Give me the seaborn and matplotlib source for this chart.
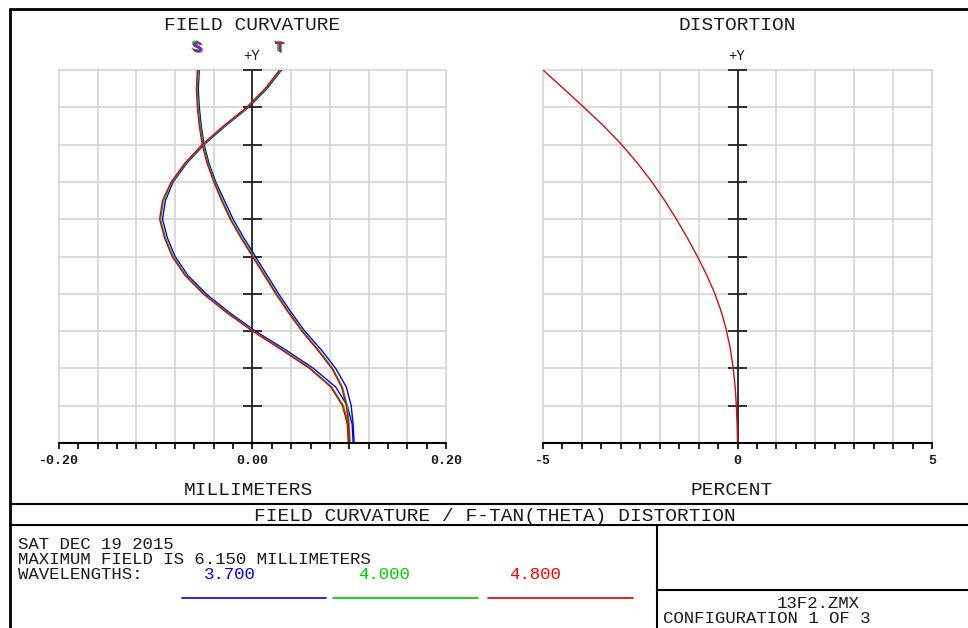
import matplotlib
matplotlib.use("Agg")
import matplotlib.pyplot as plt
import matplotlib.patheffects as pe
import numpy as np
import pandas as pd
import seaborn as sns
from matplotlib.lines import Line2D

# ---------------- data ----------------
field = [0.00, 0.05, 0.10, 0.15, 0.20, 0.25, 0.30, 0.35, 0.40, 0.45, 0.50,
         0.55, 0.60, 0.65, 0.70, 0.75, 0.80, 0.85, 0.90, 0.95, 1.00]

wavelengths = ["3.700", "4.000", "4.800"]
wave_colors = ["#0000ff", "#00c000", "#e00000"]

# tangential field curvature (mm)
tan_3700 = [0.104, 0.103, 0.098, 0.086, 0.063, 0.034, 0.003, -0.024, -0.048, -0.067, -0.080,
            -0.088, -0.093, -0.090, -0.082, -0.068, -0.050, -0.028, -0.004, 0.015, 0.030]
tan_4000 = [0.100, 0.099, 0.094, 0.082, 0.060, 0.031, 0.001, -0.026, -0.050, -0.069, -0.082,
            -0.090, -0.095, -0.092, -0.083, -0.069, -0.051, -0.029, -0.005, 0.014, 0.029]
tan_4800 = [0.099, 0.098, 0.093, 0.081, 0.059, 0.030, 0.000, -0.027, -0.051, -0.070, -0.083,
            -0.091, -0.096, -0.093, -0.084, -0.070, -0.052, -0.030, -0.006, 0.013, 0.028]
# sagittal field curvature (mm)
sag_3700 = [0.105, 0.104, 0.102, 0.097, 0.086, 0.071, 0.054, 0.040, 0.027, 0.015, 0.003,
            -0.009, -0.020, -0.029, -0.038, -0.045, -0.050, -0.053, -0.055, -0.056, -0.055]
sag_4000 = [0.101, 0.100, 0.098, 0.093, 0.083, 0.068, 0.052, 0.038, 0.025, 0.013, 0.001,
            -0.011, -0.022, -0.031, -0.039, -0.046, -0.051, -0.054, -0.056, -0.057, -0.056]
sag_4800 = [0.100, 0.099, 0.097, 0.092, 0.082, 0.067, 0.051, 0.037, 0.024, 0.012, 0.000,
            -0.012, -0.023, -0.032, -0.040, -0.047, -0.052, -0.055, -0.057, -0.058, -0.057]

# f-tan(theta) distortion (percent)
distortion = [0.00, -0.01, -0.03, -0.06, -0.11, -0.18, -0.28, -0.41, -0.58, -0.79, -1.03,
              -1.29, -1.57, -1.87, -2.20, -2.57, -2.98, -3.44, -3.95, -4.47, -5.00]

mm_tick_labels = {-0.20: "-0.20", 0.00: "0.00", 0.20: "0.20"}
pct_tick_labels = {-5.0: "-5", 0.0: "0", 5.0: "5"}

# ---------------- figure ----------------
sns.set_style("white")
plt.rcParams['font.family'] = ['Liberation Mono', 'DejaVu Sans Mono', 'DejaVu Sans']

W, H = 968, 628
fig = plt.figure(figsize=(W / 100, H / 100), dpi=100)
fig.patch.set_facecolor("white")


def fx(px):
    return px / W


def fy(py):
    return 1 - py / H


ax1 = fig.add_axes([fx(59), fy(443), 387 / W, 373 / H])
ax2 = fig.add_axes([fx(543), fy(443), 389 / W, 373 / H])

GRID = "#d4d4d4"
INK = "#1a1a1a"


def style_axis(ax, xmax, n_grid, tick_half, labels):
    ax.set_xlim(-xmax, xmax)
    ax.set_ylim(0, 1)
    ax.set_facecolor("white")
    for s in ax.spines.values():
        s.set_visible(False)
    for v in np.linspace(-xmax, xmax, n_grid + 1):
        ax.axvline(v, color=GRID, lw=1.2, zorder=0, clip_on=False)
    for h in np.linspace(0, 1, 11):
        ax.axhline(h, color=GRID, lw=1.2, zorder=0, clip_on=False)
    ax.axhline(0, color="black", lw=1.5, zorder=4, clip_on=False)
    ax.axvline(0, color="#222222", lw=1.3, zorder=1)
    ax.hlines(np.linspace(0.1, 1.0, 10), -tick_half, tick_half, color="#222222", lw=1.3, zorder=1,
              clip_on=False)
    ticks = np.linspace(-xmax, xmax, 21)
    ax.set_xticks(ticks)
    lbls = []
    for t in ticks:
        key = round(float(t), 4)
        lbls.append(next((v for k, v in labels.items() if abs(k - key) < 1e-6), ""))
    ax.set_xticklabels(lbls)
    ax.set_yticks([])
    ax.tick_params(axis="x", direction="out", length=4, width=1.2, color="black", pad=5,
                   labelsize=9.5, bottom=True, labelcolor=INK)
    for lb in ax.get_xticklabels():
        lb.set_fontweight("bold")
    ax.grid(False)


style_axis(ax1, 0.20, 10, 0.0103, mm_tick_labels)
style_axis(ax2, 5.0, 10, 0.257, pct_tick_labels)

# field curvature curves
rows = []
for wl, tv, sv in zip(wavelengths, [tan_3700, tan_4000, tan_4800], [sag_3700, sag_4000, sag_4800]):
    for f, t in zip(field, tv):
        rows.append({"field": f, "mm": t, "wl": wl, "kind": "T"})
    for f, s in zip(field, sv):
        rows.append({"field": f, "mm": s, "wl": wl, "kind": "S"})
df = pd.DataFrame(rows)
sns.lineplot(data=df, x="mm", y="field", hue="wl", units="kind", estimator=None, sort=False,
             hue_order=wavelengths, palette=dict(zip(wavelengths, wave_colors)), legend=False,
             ax=ax1, lw=1.0, zorder=2)

# distortion curve
ddf = pd.DataFrame({"field": field, "pct": distortion})
sns.lineplot(data=ddf, x="pct", y="field", estimator=None, sort=False, color="#d01010",
             ax=ax2, lw=1.0, zorder=2)

for ax in (ax1, ax2):
    ax.set_xlabel("")
    ax.set_ylabel("")

# S / T labels above the curves
lab_y = (443 - 52) / 373
for xval, txt, col in [(sag_4800[-1], "S", "#7a2a9a"), (tan_4800[-1], "T", "#a0207a")]:
    ax1.text(xval, lab_y, txt, transform=ax1.get_xaxis_transform(), ha="center", va="baseline",
             fontsize=11, fontweight="bold", color=col, clip_on=False,
             path_effects=[pe.withSimplePatchShadow(offset=(-1.2, 1.0), shadow_rgbFace="#20c020",
                                                    alpha=0.9),
                           pe.withSimplePatchShadow(offset=(1.2, -0.6), shadow_rgbFace="#3030ff",
                                                    alpha=0.6),
                           pe.Normal()])

TXT = 14
SMALL = 12.5
fig.text(fx(252), fy(30), "FIELD CURVATURE", ha="center", va="baseline", fontsize=TXT, color=INK)
fig.text(fx(737), fy(30), "DISTORTION", ha="center", va="baseline", fontsize=TXT, color=INK)
fig.text(fx(252), fy(60), "+Y", ha="center", va="baseline", fontsize=10, color=INK)
fig.text(fx(737), fy(60), "+Y", ha="center", va="baseline", fontsize=10, color=INK)
fig.text(fx(248), fy(495), "MILLIMETERS", ha="center", va="baseline", fontsize=TXT, color=INK)
fig.text(fx(732), fy(495), "PERCENT", ha="center", va="baseline", fontsize=TXT, color=INK)


# frame lines
def fline(x0, y0, x1, y1, lw=1.5):
    fig.add_artist(Line2D([fx(x0), fx(x1)], [fy(y0), fy(y1)], transform=fig.transFigure,
                          color="black", lw=lw))


fline(10, 9, 968, 9, lw=2)
fline(10, 9, 10, 628, lw=2)
fline(10, 504, 968, 504)
fline(10, 525, 968, 525)
fline(657, 525, 657, 628)
fline(657, 590, 968, 590)

fig.text(fx(495), fy(521), "FIELD CURVATURE / F-TAN(THETA) DISTORTION", ha="center",
         va="baseline", fontsize=TXT, color=INK)
fig.text(fx(18), fy(549), "SAT DEC 19 2015", ha="left", va="baseline", fontsize=SMALL, color=INK)
fig.text(fx(18), fy(564), "MAXIMUM FIELD IS 6.150 MILLIMETERS", ha="left", va="baseline",
         fontsize=SMALL, color=INK)
fig.text(fx(18), fy(579), "WAVELENGTHS:", ha="left", va="baseline", fontsize=SMALL, color=INK)

wl_x = [204, 358, 509]
wl_line = [(182, 326), (333, 478), (488, 633)]
wl_text_colors = ["#0000ff", "#00d000", "#ff0000"]
for wl, xx, (l0, l1), tc, lc in zip(wavelengths, wl_x, wl_line, wl_text_colors, wave_colors):
    fig.text(fx(xx), fy(579), wl, ha="left", va="baseline", fontsize=SMALL, color=tc)
    fig.add_artist(Line2D([fx(l0), fx(l1)], [fy(598), fy(598)], transform=fig.transFigure,
                          color=lc, lw=1.2))

fig.text(fx(818), fy(608), "13F2.ZMX", ha="center", va="baseline", fontsize=SMALL, color=INK)
fig.text(fx(663), fy(623), "CONFIGURATION 1 OF 3", ha="left", va="baseline", fontsize=SMALL,
         color=INK)

fig.savefig("out.png", dpi=100, facecolor="white")
